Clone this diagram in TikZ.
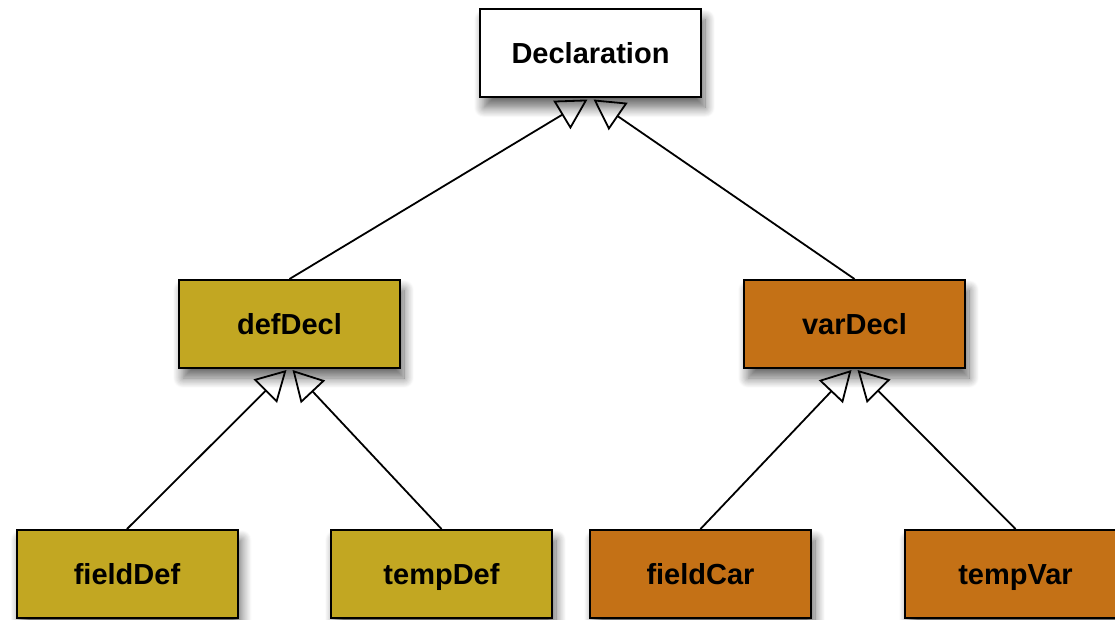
\documentclass[tikz,border=0pt]{standalone}
\usepackage{fontspec}
\setmainfont{Liberation Sans}
\usetikzlibrary{arrows.meta,shadows.blur}
\definecolor{gold}{HTML}{C2A722}
\definecolor{rust}{HTML}{C47116}
\tikzset{
  cls/.style={draw=black, line width=2pt, minimum width=221pt, minimum height=88pt,
    inner sep=0pt, text height=21pt, text depth=0pt, font=\fontsize{29}{34}\selectfont\bfseries,
    blur shadow={shadow xshift=4pt, shadow yshift=-10pt, shadow blur radius=10pt, shadow blur steps=12, shadow opacity=60}},
  inh/.style={line width=1.8pt, -{Triangle[open, length=30pt, width=33pt, line width=1.8pt]}}
}
\begin{document}
\begin{tikzpicture}[x=1pt,y=-1pt]
\useasboundingbox (0,0) rectangle (1115,620);
\clip (0,0) rectangle (1115,620);
\node[cls, fill=white] (decl) at (590.5,53.5) {Declaration};
\node[cls, fill=gold] (def) at (289.5,324) {defDecl};
\node[cls, fill=rust] (var) at (854.5,324) {varDecl};
\node[cls, fill=gold] (fdef) at (127,574) {fieldDef};
\node[cls, fill=gold] (tdef) at (441.5,574) {tempDef};
\node[cls, fill=rust] (fcar) at (700.5,574) {fieldCar};
\node[cls, fill=rust] (tvar) at (1015.5,574) {tempVar};
\draw[inh] (def.north) -- ([xshift=-3pt,yshift=-1pt]decl.south);
\draw[inh] (var.north) -- ([xshift=3pt,yshift=-1pt]decl.south);
\draw[inh] (fdef.north) -- ([xshift=-3pt,yshift=-1pt]def.south);
\draw[inh] (tdef.north) -- ([xshift=3pt,yshift=-1pt]def.south);
\draw[inh] (fcar.north) -- ([xshift=-3pt,yshift=-1pt]var.south);
\draw[inh] (tvar.north) -- ([xshift=3pt,yshift=-1pt]var.south);
\end{tikzpicture}
\end{document}
